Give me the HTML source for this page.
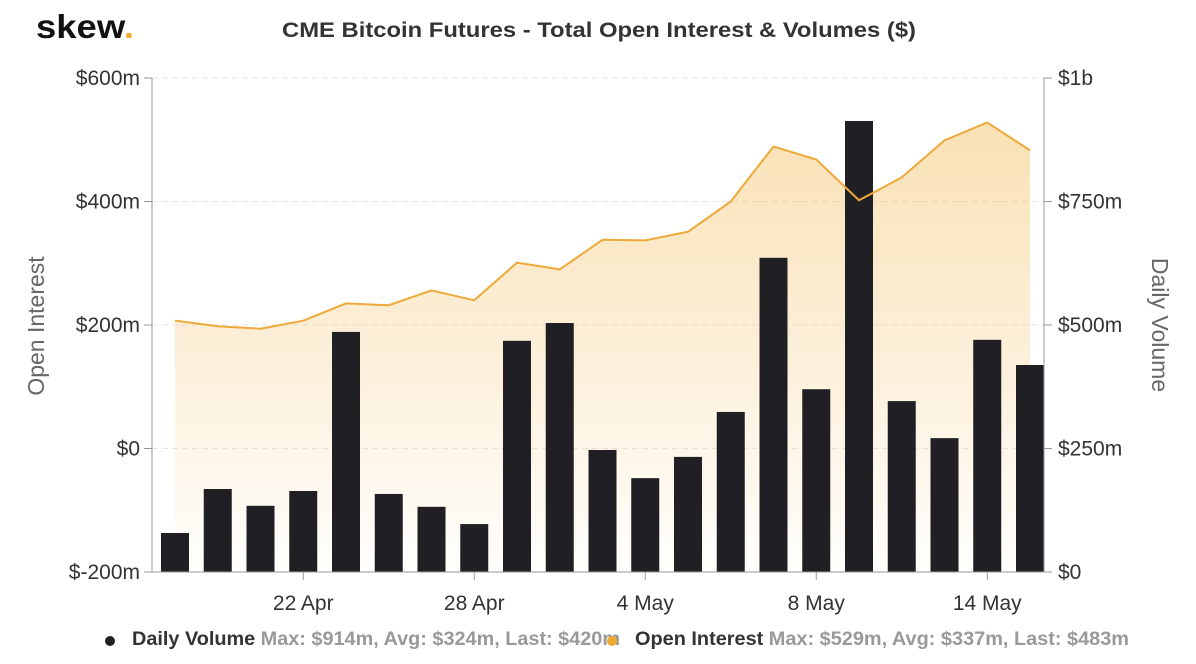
<!DOCTYPE html>
<html><head><meta charset="utf-8"><style>
body{margin:0;background:#fff;font-family:"Liberation Sans",Arial,sans-serif}
svg{display:block}
</style></head><body>
<svg id="c" width="1196" height="664">
<defs><linearGradient id="g" x1="0" y1="0" x2="0" y2="1">
<stop offset="0" stop-color="#f5c877" stop-opacity="0.55"/>
<stop offset="1" stop-color="#f5c877" stop-opacity="0.02"/></linearGradient></defs>
<text x="36" y="38" font-size="33" font-weight="bold" fill="#111" textLength="98" lengthAdjust="spacingAndGlyphs">skew<tspan fill="#f0a830">.</tspan></text>
<text x="282" y="37" font-size="21" font-weight="bold" fill="#333" textLength="634" lengthAdjust="spacingAndGlyphs">CME Bitcoin Futures - Total Open Interest &amp; Volumes ($)</text>
<g id="grid"></g><g id="area"></g><g id="bars"></g><g id="axes"></g>
<text transform="translate(44,326) rotate(-90)" text-anchor="middle" font-size="23" fill="#666">Open Interest</text>
<text transform="translate(1152,325) rotate(90)" text-anchor="middle" font-size="23" fill="#666">Daily Volume</text>
<g><circle cx="110" cy="641" r="5" fill="#222"/>
<text x="132" y="645" font-size="19" font-weight="bold" fill="#333" textLength="488" lengthAdjust="spacingAndGlyphs">Daily Volume <tspan fill="#999">Max: $914m, Avg: $324m, Last: $420m</tspan></text></g>
<g><circle cx="612" cy="641" r="5" fill="#f0a830"/>
<text x="635" y="645" font-size="19" font-weight="bold" fill="#333" textLength="494" lengthAdjust="spacingAndGlyphs">Open Interest <tspan fill="#999">Max: $529m, Avg: $337m, Last: $483m</tspan></text></g>
</svg>
<script>
const dates=["17 Apr","20 Apr","21 Apr","22 Apr","23 Apr","24 Apr","27 Apr","28 Apr","29 Apr","30 Apr","1 May","4 May","5 May","6 May","7 May","8 May","11 May","12 May","13 May","14 May","15 May"];
const volume=[79,168,134,164,486,158,132,97,468,504,247,190,233,324,636,370,913,346,271,470,419];
const openInterest=[207,198,194,207,235,232,256,240,301,290,338,337,351,400,489,468,402,439,499,528,483];
const leftTicks=[-200,0,200,400,600];
const leftLabels=["$-200m","$0","$200m","$400m","$600m"];
const rightTicks=[0,250,500,750,1000];
const rightLabels=["$0","$250m","$500m","$750m","$1b"];
const xTickIdx=[3,7,11,15,19];
const xTickLabels=["22 Apr","28 Apr","4 May","8 May","14 May"];
const X0=152,X1=1044,T=78,B=572;
const step=42.75;
const x=i=>175+step*i;
const yL=v=>B-(v+200)/800*(B-T);
const yR=v=>B-v/1000*(B-T);
const NS="http://www.w3.org/2000/svg";
function mk(t,a,p){const e=document.createElementNS(NS,t);for(const k in a)e.setAttribute(k,a[k]);document.getElementById(p).appendChild(e);return e;}
leftTicks.forEach((v,i)=>{
 if(v!==-200){const l=mk('line',{x1:X0,x2:X1,y1:yL(v),y2:yL(v),stroke:'#e6e6e6','stroke-dasharray':'6,4'},'grid');
 
 }
 const t=mk('text',{x:X0-12,y:yL(v)+7,'text-anchor':'end','font-size':21,fill:'#333'},'axes');t.textContent=leftLabels[i];
 
 
 const tk=mk('line',{x1:X0-8,x2:X0,y1:yL(v),y2:yL(v),stroke:'#999'},'axes');
 
 
});
rightTicks.forEach((v,i)=>{
 const t=mk('text',{x:X1+14,y:yR(v)+7,'font-size':21,fill:'#333'},'axes');t.textContent=rightLabels[i];
 
 
 const tk=mk('line',{x1:X1,x2:X1+8,y1:yR(v),y2:yR(v),stroke:'#999'},'axes');
 
 
});
[[X0,T,X0,B],[X1,T,X1,B],[X0,B,X1,B]].forEach(p=>{const l=mk('line',{x1:p[0],y1:p[1],x2:p[2],y2:p[3],stroke:'#999'},'axes');
 
 });
xTickIdx.forEach((idx,i)=>{
 const tk=mk('line',{x1:x(idx),x2:x(idx),y1:B,y2:B+8,stroke:'#999'},'axes');
 
 
 const t=mk('text',{x:x(idx),y:B+38,'text-anchor':'middle','font-size':21,fill:'#333'},'axes');t.textContent=xTickLabels[i];
 
 
});
let pts=openInterest.map((v,i)=>x(i)+','+yL(v)).join(' ');
const ar=mk('polygon',{points:x(0)+','+B+' '+pts+' '+x(openInterest.length-1)+','+B,fill:'url(#g)'},'area');


volume.forEach((v,i)=>{
 const r=mk('rect',{x:x(i)-14,y:yR(v),width:28,height:B-yR(v),fill:'#202024'},'bars');
 
 
});
const ln=mk('polyline',{points:pts,fill:'none',stroke:'#eda93a','stroke-width':2},'bars');


</script>
</body></html>
